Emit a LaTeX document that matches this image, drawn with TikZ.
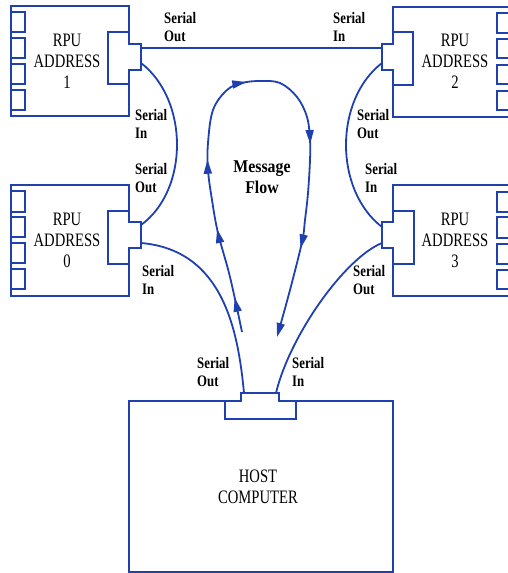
\documentclass[tikz,border=0pt]{standalone}
\usepackage{fontspec}
\usetikzlibrary{arrows.meta,decorations.markings}
\newfontfamily\rpuf[FakeStretch=0.77]{Liberation Serif}
\newfontfamily\lblf[FakeStretch=0.8]{Liberation Serif}
\newfontfamily\msgf[FakeStretch=0.88]{Liberation Serif}
\definecolor{myblue}{RGB}{30,65,175}
\tikzset{
  ln/.style={draw=myblue, line width=1.8pt},
  boxln/.style={draw=myblue, line width=1.8pt, line join=miter},
  rputext/.style={align=center, inner sep=0pt, font=\rpuf\fontsize{19}{21}\selectfont},
  lbl/.style={align=left, anchor=west, inner sep=0pt, font=\lblf\bfseries\fontsize{16}{18}\selectfont},
  msg/.style={align=center, inner sep=0pt, font=\msgf\bfseries\fontsize{18}{21}\selectfont},
  tri/.tip={Triangle[length=14pt,width=8pt]}
}
\begin{document}
\begin{tikzpicture}[x=1pt,y=-1pt]
\useasboundingbox (0,0) rectangle (508,573);
\clip (0,0) rectangle (508,573);

% ---------- RPU 1 (top left)
\draw[boxln] (129,6) -- (11,6) -- (11,116) -- (129,116) -- (129,70) -- (141,70) -- (141,44) -- (129,44) -- cycle;
\draw[boxln] (129,32) -- (108,32) -- (108,84) -- (129,84);
\draw[boxln] (11,12) rectangle (25,32) (11,38) rectangle (25,58) (11,64) rectangle (25,84) (11,90) rectangle (25,110);
\node[rputext] (t1) at (67,61) {RPU\\ADDRESS\\1};

% ---------- RPU 0 (middle left)
\draw[boxln] (129,185) -- (11,185) -- (11,296) -- (129,296) -- (129,248) -- (141,248) -- (141,222) -- (129,222) -- cycle;
\draw[boxln] (129,211) -- (108,211) -- (108,264) -- (129,264);
\draw[boxln] (11,191) rectangle (25,212) (11,217) rectangle (25,237) (11,243) rectangle (25,263) (11,269) rectangle (25,289);
\node[rputext] (t0) at (67,240) {RPU\\ADDRESS\\0};

% ---------- RPU 2 (top right)
\draw[boxln] (393,44) -- (393,7) -- (512,7) -- (512,117) -- (393,117) -- (393,70) -- (382,70) -- (382,44) -- cycle;
\draw[boxln] (393,32) -- (413,32) -- (413,85) -- (393,85);
\draw[boxln] (497,13) rectangle (512,33) (497,39) rectangle (512,58) (497,65) rectangle (512,84) (497,91) rectangle (512,110);
\node[rputext] (t2) at (455,61) {RPU\\ADDRESS\\2};

% ---------- RPU 3 (middle right)
\draw[boxln] (393,222) -- (393,185) -- (512,185) -- (512,296) -- (393,296) -- (393,248) -- (382,248) -- (382,222) -- cycle;
\draw[boxln] (393,211) -- (414,211) -- (414,264) -- (393,264);
\draw[boxln] (497,192) rectangle (512,212) (497,217) rectangle (512,238) (497,244) rectangle (512,264) (497,270) rectangle (512,289);
\node[rputext] (t3) at (455,240) {RPU\\ADDRESS\\3};

% ---------- Host computer
\draw[boxln] (241,401) -- (129,401) -- (129,572) -- (393,572) -- (393,401) -- (279,401) -- (279,393) -- (241,393) -- cycle;
\draw[boxln] (225,401) -- (225,419) -- (296,419) -- (296,401);
\node[rputext] (th) at (258,487) {HOST\\COMPUTER};

% ---------- ports
\coordinate (r1a) at (141,48);
\coordinate (r1b) at (141,63);
\coordinate (r2a) at (382,48);
\coordinate (r2b) at (382,63);
\coordinate (r0a) at (141,225);
\coordinate (r0b) at (141,243);
\coordinate (r3a) at (382,227);
\coordinate (r3b) at (382,243);
\coordinate (hl) at (244,393);
\coordinate (hr) at (276,393);

% ---------- serial connections
\draw[ln] (r1a) -- (r2a);
\draw[ln] (r1b) .. controls (189,100) and (189,190) .. (r0a);
\draw[ln] (r2b) .. controls (334,100) and (334,190) .. (r3a);
\draw[ln] (r0b) .. controls (223,250) and (238,330) .. (hl);
\draw[ln] (r3b) .. controls (345,258) and (290,335) .. (hr);

% ---------- labels
\node[lbl] (l1) at (164,27) {Serial\\Out};
\node[lbl] (l2) at (333,27) {Serial\\In};
\node[lbl] (l3) at (135,124) {Serial\\In};
\node[lbl] (l4) at (135,178) {Serial\\Out};
\node[lbl] (l5) at (142,280) {Serial\\In};
\node[lbl] (l6) at (357,124) {Serial\\Out};
\node[lbl] (l7) at (365,178) {Serial\\In};
\node[lbl] (l8) at (353,280) {Serial\\Out};
\node[lbl] (l9) at (197,372) {Serial\\Out};
\node[lbl] (l10) at (292,372) {Serial\\In};

% ---------- message flow loop
\node[msg] (mf) at (262,177) {Message\\Flow};
\draw[ln, -tri, postaction={decorate},
  decoration={markings,
    mark=at position 35pt with {\arrow[myblue]{tri}},
    mark=at position 106pt with {\arrow[myblue]{tri}},
    mark=at position 176pt with {\arrow[myblue]{tri}},
    mark=at position 272pt with {\arrow[myblue]{tri}},
    mark=at position 378pt with {\arrow[myblue]{tri}},
    mark=at position 483pt with {\arrow[myblue]{tri}}}]
  plot[smooth, tension=0.6] coordinates {(242,332) (230,277) (218,233) (212,200) (208,170) (208,143) (213,110) (227,90) (242,83) (260,81) (280,83) (297,97) (307,117) (310,140) (310,160) (308,193) (305,220) (302,242) (290,290) (277,337)};
\end{tikzpicture}
\end{document}
